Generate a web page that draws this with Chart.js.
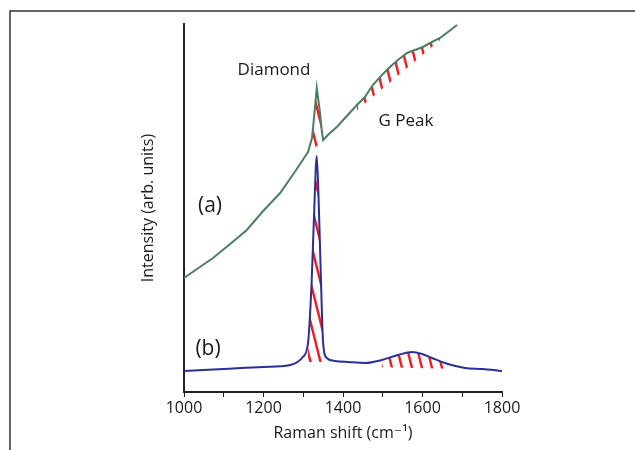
<!DOCTYPE html>
<html lang="en">
<head>
    <meta charset="UTF-8">
    <title>Raman spectra</title>
    <script src="https://cdn.jsdelivr.net/npm/chart.js"></script>
    <style>
        body { margin: 0; background: #fff; }
        canvas { display: block; }
    </style>
</head>
<body>
    <canvas id="chart" width="635" height="450"></canvas>
    <script>
        // curve (a): x in cm-1, intensity in arb. units
        const aX = [1000, 1040, 1073, 1116, 1158, 1199, 1242, 1282, 1312, 1322, 1327, 1334, 1342, 1347, 1350, 1362, 1387, 1405, 1435, 1455, 1475, 1498, 1518, 1538, 1561, 1581, 1601, 1624, 1644, 1664, 1687];
        const aY = [114, 125, 134, 148, 162, 181, 199, 222, 240, 254, 274, 304, 280, 260, 252, 257, 266, 274, 287, 295, 307, 317, 325, 332, 339, 342, 345, 350, 354, 360, 367];

        // curve (b)
        const bX = [1000, 1100, 1200, 1267, 1299, 1312, 1321, 1327, 1334, 1340, 1346, 1350, 1359, 1380, 1413, 1455, 1498, 1538, 1574, 1599, 1624, 1664, 1707, 1750, 1800];
        const bY = [21, 23, 25, 27, 35, 49, 109, 175, 236, 175, 92, 49, 34, 31, 30, 29, 32, 37, 40, 38, 34, 28, 24, 23, 21];

        // hatched areas: [xStart, xEnd] and baseline intensity at both ends
        const hatchAD = { x: [1312, 1350], y: [240, 250] };
        const hatchAG = { x: [1420, 1645], y: [277, 352] };
        const hatchBD = { x: [1302, 1358], y: [30, 30] };
        const hatchBG = { x: [1460, 1700], y: [25, 23] };

        const xTicks = [1000, 1200, 1400, 1600, 1800];
        const labels = { diamond: 'Diamond', gpeak: 'G Peak', a: '(a)', b: '(b)' };

        const FONT = "'Open Sans', 'DejaVu Sans', sans-serif";
        const INK = '#1a1a1a';
        const GREEN = '#4b7f5f';
        const BLUE = '#2a2f96';
        const RED = '#ee1c24';

        function pts(xs, ys) {
            return xs.map((x, i) => ({ x: x, y: ys[i] }));
        }

        function within(xs, ys, x0, x1) {
            return pts(xs, ys).filter(p => p.x >= x0 && p.x <= x1);
        }

        function makeHatch() {
            const c = document.createElement('canvas');
            c.width = 10;
            c.height = 40;
            const g = c.getContext('2d');
            g.strokeStyle = RED;
            g.lineWidth = 2.4;
            for (const off of [-10, 0, 10]) {
                g.beginPath();
                g.moveTo(off - 1, -4);
                g.lineTo(off + 11, 44);
                g.stroke();
            }
            return g.createPattern(c, 'repeat');
        }
        const hatch = makeHatch();

        function baseline(h) {
            return {
                data: pts(h.x, h.y),
                borderWidth: 0,
                pointRadius: 0,
                fill: false,
                order: 3
            };
        }

        function hatchSet(xs, ys, h, target) {
            return {
                data: within(xs, ys, h.x[0], h.x[1]),
                borderWidth: 0,
                pointRadius: 0,
                backgroundColor: hatch,
                fill: { target: target },
                order: 2
            };
        }

        const datasets = [
            // 0-3 baselines
            baseline(hatchAD),
            baseline(hatchAG),
            baseline(hatchBD),
            baseline(hatchBG),
            // 4-7 hatched fills
            hatchSet(aX, aY, hatchAD, 0),
            hatchSet(aX, aY, hatchAG, 1),
            hatchSet(bX, bY, hatchBD, 2),
            hatchSet(bX, bY, hatchBG, 3),
            // curves
            {
                data: pts(aX, aY),
                borderColor: GREEN,
                borderWidth: 2,
                pointRadius: 0,
                fill: false,
                clip: false,
                order: 0
            },
            {
                data: pts(bX, bY),
                borderColor: BLUE,
                borderWidth: 2,
                pointRadius: 0,
                fill: false,
                cubicInterpolationMode: 'monotone',
                order: 0
            }
        ];

        const decor = {
            id: 'decor',
            beforeDraw(chart) {
                const ctx = chart.ctx;
                ctx.save();
                ctx.strokeStyle = '#333';
                ctx.lineWidth = 1.5;
                ctx.strokeRect(10, 11, 700, 500);
                ctx.restore();
            },
            afterDraw(chart) {
                const ctx = chart.ctx;
                ctx.save();
                ctx.fillStyle = INK;
                ctx.textAlign = 'center';
                ctx.textBaseline = 'middle';
                ctx.font = '17px ' + FONT;
                ctx.fillText(labels.diamond, 274, 70);
                ctx.fillText(labels.gpeak, 406, 121);
                ctx.font = '21px ' + FONT;
                ctx.fillText(labels.a, 210, 206);
                ctx.fillText(labels.b, 208, 349);
                ctx.restore();
            }
        };

        new Chart(document.getElementById('chart'), {
            type: 'line',
            data: { datasets: datasets },
            plugins: [decor],
            options: {
                responsive: false,
                animation: false,
                layout: { padding: { left: 135, right: 133, top: 24, bottom: 3 } },
                plugins: {
                    legend: { display: false },
                    tooltip: { enabled: false }
                },
                elements: { line: { tension: 0 } },
                scales: {
                    x: {
                        type: 'linear',
                        min: 1000,
                        max: 1800,
                        afterFit(scale) { scale.height = 55; },
                        ticks: {
                            stepSize: 100,
                            padding: 2,
                            maxRotation: 0,
                            color: INK,
                            font: { family: FONT, size: 16 },
                            callback: v => xTicks.includes(v) ? String(v) : ''
                        },
                        grid: {
                            drawOnChartArea: false,
                            drawTicks: true,
                            tickLength: 5,
                            color: '#222'
                        },
                        border: { display: true, color: '#222', width: 2 },
                        title: {
                            display: true,
                            text: 'Raman shift (cm⁻¹)',
                            color: INK,
                            font: { family: FONT, size: 16 },
                            padding: 4
                        }
                    },
                    y: {
                        min: 0,
                        max: 368,
                        afterFit(scale) { scale.width = 49; },
                        ticks: { display: false },
                        grid: { drawOnChartArea: false, drawTicks: false },
                        border: { display: true, color: '#222', width: 2 },
                        title: {
                            display: true,
                            text: 'Intensity (arb. units)',
                            color: INK,
                            font: { family: FONT, size: 16 },
                            padding: 4
                        }
                    }
                }
            }
        });
    </script>
</body>
</html>
